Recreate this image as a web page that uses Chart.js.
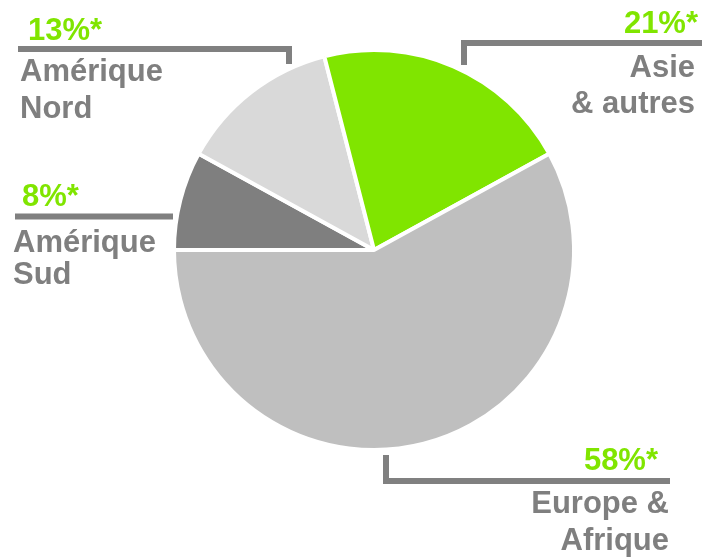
<!DOCTYPE html>
<html>
<head>
<meta charset="utf-8">
<script src="https://cdn.jsdelivr.net/npm/chart.js@4/dist/chart.umd.min.js"></script>
<style>
  html, body { margin: 0; padding: 0; background: #ffffff; }
  #wrap { width: 709px; height: 559px; position: relative; }
</style>
</head>
<body>
<div id="wrap"><canvas id="c" width="709" height="559"></canvas></div>
<script>
// ---- data ----
const categories = [["Amérique", "Sud"], ["Amérique", "Nord"], ["Asie", "& autres"], ["Europe &", "Afrique"]];
const shares = [8, 13, 21, 58];
const percentLabels = ["8%*", "13%*", "21%*", "58%*"];
const sliceColors = ["#7f7f7f", "#d9d9d9", "#80e500", "#bfbfbf"];

// ---- annotation layout (label placement, in canvas px) ----
const FONT = "bold 31px 'Liberation Sans', Arial, sans-serif";
const GREEN = "#80e500";
const GRAY_TXT = "#7f7f7f";
const LINE_COL = "#808080";
const annotations = [
  { // Amérique Sud
    pct: { x: 22, y: 206, align: "left" },
    name: { x: 13, y: [252, 284], align: "left" },
    path: [[15, 216.5], [173, 216.5]]
  },
  { // Amérique Nord
    pct: { x: 28, y: 40, align: "left" },
    name: { x: 20, y: [81, 118], align: "left" },
    path: [[18, 49], [289, 49], [289, 64]]
  },
  { // Asie & autres
    pct: { x: 698, y: 33, align: "right" },
    name: { x: 695, y: [77, 113], align: "right" },
    path: [[702, 43], [464, 43], [464, 65]]
  },
  { // Europe & Afrique
    pct: { x: 658, y: 470, align: "right" },
    name: { x: 669, y: [513, 550], align: "right" },
    path: [[386, 455], [386, 481], [670, 481]]
  }
];

const labelPlugin = {
  id: "labelPlugin",
  afterDraw(chart) {
    const ctx = chart.ctx;
    ctx.save();
    annotations.forEach((a, i) => {
      // leader line
      ctx.strokeStyle = LINE_COL;
      ctx.lineWidth = 6;
      ctx.lineCap = "butt";
      ctx.lineJoin = "miter";
      ctx.beginPath();
      a.path.forEach((p, k) => { if (k === 0) ctx.moveTo(p[0], p[1]); else ctx.lineTo(p[0], p[1]); });
      ctx.stroke();
      // percent
      ctx.font = FONT;
      ctx.textBaseline = "alphabetic";
      ctx.fillStyle = GREEN;
      ctx.textAlign = a.pct.align;
      ctx.fillText(percentLabels[i], a.pct.x, a.pct.y);
      // category name
      ctx.fillStyle = GRAY_TXT;
      ctx.textAlign = a.name.align;
      categories[i].forEach((line, k) => ctx.fillText(line, a.name.x, a.name.y[k]));
    });
    ctx.restore();
  }
};

new Chart(document.getElementById("c"), {
  type: "pie",
  data: {
    labels: categories.map(c => c.join(" ")),
    datasets: [{
      data: shares,
      backgroundColor: sliceColors,
      borderColor: "#ffffff",
      borderWidth: 4
    }]
  },
  options: {
    responsive: false,
    animation: false,
    rotation: -90,
    layout: { padding: { left: 172, right: 133, top: 48, bottom: 107 } },
    plugins: {
      legend: { display: false },
      tooltip: { enabled: false }
    }
  },
  plugins: [labelPlugin]
});
</script>
</body>
</html>
